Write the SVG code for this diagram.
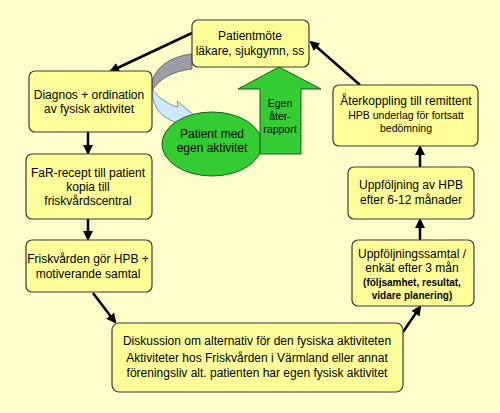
<svg xmlns="http://www.w3.org/2000/svg" width="500" height="413" viewBox="0 0 500 413">
<defs>
<style>
.box{fill:#FFFF99;stroke:#3a3a3a;stroke-width:1.2}
.t{font-family:"Liberation Sans","DejaVu Sans",sans-serif;font-size:12px;fill:#000;text-anchor:middle}
.s{font-size:10.5px}
.b{font-weight:bold}
.con{stroke:#000;stroke-width:2.5;fill:none;marker-end:url(#ah)}
</style>
<marker id="ah" viewBox="0 0 10 10" refX="8" refY="5" markerWidth="4" markerHeight="4" orient="auto" markerUnits="strokeWidth">
<path d="M0,0 L10,5 L0,10 z" fill="#000"/>
</marker>
</defs>
<rect width="500" height="413" fill="#FFFFCC"/>

<g id="connectors">
<line class="con" x1="192" y1="33" x2="111" y2="71"/>
<line class="con" x1="88" y1="132" x2="88" y2="153"/>
<line class="con" x1="88" y1="219" x2="88" y2="239"/>
<line class="con" x1="93" y1="293" x2="115" y2="322"/>
<line class="con" x1="403" y1="332" x2="420" y2="307"/>
<line class="con" x1="420" y1="240" x2="420" y2="220"/>
<line class="con" x1="420" y1="167" x2="420" y2="147"/>
<line class="con" x1="360" y1="85" x2="311" y2="42"/>
</g>

<g id="curved-arrows">
<path d="M192,54 C174,56 158,64 152,81 L152,91 C158,80 172,71 192,69 Z" fill="#9C9CA8" stroke="#555" stroke-width="0.8"/>
<path d="M152,89 C159,98 167,104 178,107 L177,101 L195,116 L188,132 L182,124 C165,120 152,111 152,89 Z" fill="#CCE8FF" stroke="#6a7a8a" stroke-width="0.8"/>
</g>

<g id="patient-egen">
<ellipse cx="212" cy="144" rx="50" ry="32" fill="#33CC33" stroke="#1a5a1a" stroke-width="1"/>
<text class="t" x="212" y="138">Patient med</text>
<text class="t" x="212" y="152">egen aktivitet</text>
</g>

<g id="egen-aterrapport">
<path d="M279,67 L321,89 L301,89 L301,154 L260,154 L260,89 L238,89 Z" fill="#33CC33" stroke="#1a5a1a" stroke-width="1"/>
<text class="t s" x="280" y="107">Egen</text>
<text class="t s" x="280" y="120">åter-</text>
<text class="t s" x="280" y="133">rapport</text>
</g>

<g id="patientmote">
<rect class="box" x="192" y="20" width="117" height="47" rx="6"/>
<text class="t" x="250" y="40">Patientmöte</text>
<text class="t" x="250" y="55">läkare, sjukgymn, ss</text>
</g>

<g id="diagnos">
<rect class="box" x="29" y="71" width="123" height="61" rx="6"/>
<text class="t" x="89" y="99">Diagnos + ordination</text>
<text class="t" x="89" y="113">av fysisk aktivitet</text>
</g>

<g id="far-recept">
<rect class="box" x="26" y="154" width="126" height="65" rx="6"/>
<text class="t" x="88" y="177">FaR-recept till patient</text>
<text class="t" x="88" y="191">kopia till</text>
<text class="t" x="88" y="205">friskvårdscentral</text>
</g>

<g id="friskvarden">
<rect class="box" x="26" y="240" width="126" height="52" rx="6"/>
<text class="t" x="88" y="263">Friskvården gör HPB +</text>
<text class="t" x="88" y="278">motiverande samtal</text>
</g>

<g id="diskussion">
<rect class="box" x="112" y="323" width="291" height="69" rx="7"/>
<text class="t" x="257" y="345">Diskussion om alternativ för den fysiska aktiviteten</text>
<text class="t" x="257" y="362">Aktiviteter hos Friskvården i Värmland eller annat</text>
<text class="t" x="257" y="377">föreningsliv alt. patienten har egen fysisk aktivitet</text>
</g>

<g id="uppfoljningssamtal">
<rect class="box" x="352" y="240" width="122" height="66" rx="6"/>
<text class="t" x="412" y="258">Uppföljningssamtal /</text>
<text class="t" x="412" y="272">enkät efter 3 mån</text>
<text class="t b" x="412" y="286" style="font-size:10px">(följsamhet, resultat,</text>
<text class="t b" x="412" y="299" style="font-size:10px">vidare planering)</text>
</g>

<g id="uppfoljning-hpb">
<rect class="box" x="348" y="167" width="126" height="52" rx="6"/>
<text class="t" x="411" y="189">Uppföljning av HPB</text>
<text class="t" x="411" y="204">efter 6-12 månader</text>
</g>

<g id="aterkoppling">
<rect class="box" x="333" y="85" width="145" height="61" rx="6"/>
<text class="t" x="406" y="105">Återkoppling till remittent</text>
<text class="t s" x="406" y="119">HPB underlag för fortsatt</text>
<text class="t s" x="406" y="132">bedömning</text>
</g>
</svg>
